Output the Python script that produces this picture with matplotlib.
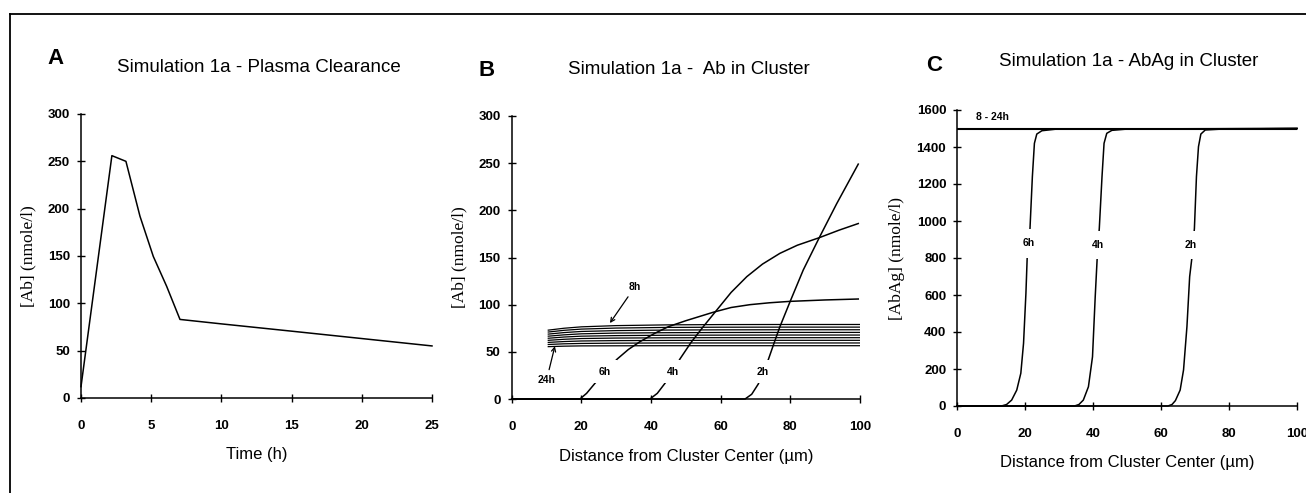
import matplotlib
matplotlib.use('Agg')
import matplotlib.pyplot as plt
from matplotlib.lines import Line2D

plt.rcParams['font.family'] = ['Liberation Sans', 'DejaVu Sans']

# ---- panel A : plasma clearance ----
time_h = [0, 2.2, 3.2, 4.2, 5.15, 6.1, 7.05, 10, 15, 20, 25]
plasma_ab = [12, 256, 250, 192, 149.5, 118, 83, 78.3, 70.6, 62.8, 55]

# ---- panel B : Ab in cluster ----
band_x = [10.5, 15, 20, 30, 45, 60, 80, 100]
band_ab = [
    [73.0, 75.0, 76.5, 77.8, 78.6, 78.9, 79.0, 79.0],   # 8h
    [71.0, 72.8, 74.1, 75.2, 75.9, 76.1, 76.2, 76.2],
    [68.8, 70.4, 71.6, 72.5, 73.1, 73.3, 73.4, 73.4],
    [66.6, 68.0, 69.1, 69.9, 70.3, 70.5, 70.6, 70.6],
    [64.4, 65.7, 66.6, 67.2, 67.6, 67.7, 67.8, 67.8],
    [62.2, 63.3, 64.1, 64.6, 64.9, 65.0, 65.0, 65.0],
    [60.0, 60.9, 61.5, 61.9, 62.1, 62.2, 62.2, 62.2],
    [57.8, 58.5, 58.9, 59.2, 59.4, 59.4, 59.4, 59.4],
    [55.5, 56.0, 56.3, 56.4, 56.5, 56.5, 56.5, 56.5],   # 24h
]
b6_x = [0, 19.6, 21.5, 23.9, 26.8, 30.3, 33.5, 36.8, 41, 45, 50, 57.9, 63, 68.4, 74, 79.9, 90, 99.5]
b6_y = [0, 0, 6, 16.6, 29, 42.4, 52.5, 60.7, 69.5, 76.7, 83, 92, 97, 100, 102, 103.5, 105, 106]
b4_x = [0, 39.7, 41.8, 44, 46.2, 48.3, 51.5, 55, 58.9, 63, 67.5, 72, 77, 82, 88.3, 94, 99.5]
b4_y = [0, 0, 6, 16.6, 29, 42.4, 60, 76.7, 94.4, 113, 129.7, 143, 154.4, 163, 171, 179, 186]
b2_x = [0, 67, 68.9, 70.8, 72.3, 73.7, 75.3, 77, 79.9, 83.7, 88.3, 93.3, 99.5]
b2_y = [0, 0, 5, 15.9, 29, 42, 59, 76.6, 103, 136.7, 171, 207, 249]

# ---- panel C : AbAg in cluster ----
c6_x = [0, 13.0, 14.5, 16.0, 17.5, 18.7, 19.5, 20.2, 20.6, 21.4, 22.1, 22.7, 23.4, 24.9, 29.3, 100]
c6_y = [0, 0, 8, 32, 86, 177, 339, 609, 816, 960, 1240, 1420, 1470, 1488, 1497, 1500]
c4_x = [0, 34.5, 35.8, 37.1, 38.6, 39.8, 40.6, 41.2, 41.8, 42.6, 43.2, 44.0, 45.5, 50, 100]
c4_y = [0, 0, 8, 32, 104, 266, 591, 807, 960, 1240, 1420, 1474, 1490, 1497, 1500]
c2_x = [0, 62.0, 63.2, 64.2, 65.6, 66.6, 67.6, 68.4, 69.1, 69.8, 70.4, 71.0, 71.7, 73.0, 78, 100]
c2_y = [0, 0, 8, 29, 86, 195, 429, 699, 807, 960, 1240, 1402, 1470, 1492, 1497, 1500]
c_late_x = [0, 100]
c_late_y = [1500, 1500]

W, H = 1306, 493
fig = plt.figure(figsize=(W / 100, H / 100), dpi=100)


def px_axes(l, r, b, t):
    return fig.add_axes([l / W, 1 - b / H, (r - l) / W, (b - t) / H])


def style(ax, xticks, yticks):
    ax.spines['top'].set_visible(False)
    ax.spines['right'].set_visible(False)
    for s in ('left', 'bottom'):
        ax.spines[s].set_linewidth(1.1)
    ax.set_xticks(xticks)
    ax.set_yticks(yticks)
    ax.tick_params(direction='inout', length=6, width=1.0, labelsize=9.5)
    ax.tick_params(axis='x', pad=13)
    ax.tick_params(axis='y', pad=5)
    for lab in ax.get_xticklabels() + ax.get_yticklabels():
        lab.set_fontweight('bold')


ylab_kw = dict(family=['Liberation Serif', 'DejaVu Serif'], fontsize=12.5)
title_kw = dict(fontsize=13.5)
xlab_kw = dict(fontsize=12, labelpad=11)
lw = 1.1

# A
axA = px_axes(81, 432, 398, 114)
axA.plot(time_h, plasma_ab, color='black', lw=lw, clip_on=False)
axA.set_xlim(0, 25)
axA.set_ylim(0, 300)
style(axA, [0, 5, 10, 15, 20, 25], [0, 50, 100, 150, 200, 250, 300])
axA.set_xlabel('Time (h)', **xlab_kw)
axA.set_ylabel('[Ab] (nmole/l)', labelpad=8, **ylab_kw)
fig.text(259 / W, 1 - 67 / H, 'Simulation 1a - Plasma Clearance', ha='center', va='center', **title_kw)
fig.text(56 / W, 1 - 59 / H, 'A', ha='center', va='center', fontsize=16, fontweight='bold')

# B
axB = px_axes(511.7, 860, 399, 116)
for row in band_ab:
    axB.plot(band_x, row, color='black', lw=0.9)
for xs, ys in ((b6_x, b6_y), (b4_x, b4_y), (b2_x, b2_y)):
    axB.plot(xs, ys, color='black', lw=lw, clip_on=False)
axB.set_xlim(0, 100)
axB.set_ylim(0, 300)
style(axB, [0, 20, 40, 60, 80, 100], [0, 50, 100, 150, 200, 250, 300])
axB.set_xlabel('Distance from Cluster Center (µm)', **xlab_kw)
axB.set_ylabel('[Ab] (nmole/l)', labelpad=8, **ylab_kw)
lab_kw = dict(fontsize=7.5, fontweight='bold', ha='center', va='center')
box = dict(boxstyle='square,pad=0.6', fc='white', ec='none')
for txt, x, y in (('6h', 26.8, 29), ('4h', 46.2, 29), ('2h', 72.0, 29)):
    axB.text(x, y, txt, bbox=box, zorder=5, **lab_kw)
axB.annotate('8h', xy=(28.2, 80.5), xytext=(35.4, 119),
             arrowprops=dict(arrowstyle='->', lw=0.9, color='black', shrinkA=2, shrinkB=0), **lab_kw)
axB.annotate('24h', xy=(12.4, 56), xytext=(10, 20),
             arrowprops=dict(arrowstyle='->', lw=0.9, color='black', shrinkA=2, shrinkB=0), **lab_kw)
fig.text(689 / W, 1 - 70 / H, 'Simulation 1a -  Ab in Cluster', ha='center', va='center', **title_kw)
fig.text(487 / W, 1 - 70 / H, 'B', ha='center', va='center', fontsize=16, fontweight='bold')

# C
axC = px_axes(957.3, 1297, 406, 110)
axC.plot(c_late_x, c_late_y, color='black', lw=1.5)
for xs, ys in ((c6_x, c6_y), (c4_x, c4_y), (c2_x, c2_y)):
    axC.plot(xs, ys, color='black', lw=lw, clip_on=False)
axC.set_xlim(0, 100)
axC.set_ylim(0, 1600)
style(axC, [0, 20, 40, 60, 80, 100], list(range(0, 1601, 200)))
axC.set_xlabel('Distance from Cluster Center (µm)', **xlab_kw)
axC.set_ylabel('[AbAg] (nmole/l)', labelpad=8, **ylab_kw)
boxC = dict(boxstyle='square,pad=0.9', fc='white', ec='none')
for txt, x, y in (('6h', 21.0, 880), ('4h', 41.4, 870), ('2h', 68.7, 870)):
    axC.text(x, y, txt, bbox=boxC, zorder=5, **lab_kw)
axC.text(5.5, 1560, '8 - 24h', fontsize=7.5, fontweight='bold', ha='left', va='center')
fig.text(1129 / W, 1 - 62 / H, 'Simulation 1a - AbAg in Cluster', ha='center', va='center', **title_kw)
fig.text(934 / W, 1 - 65 / H, 'C', ha='center', va='center', fontsize=16, fontweight='bold')

# outer frame (left and top edges)
fig.add_artist(Line2D([10 / W, 10 / W], [0, 1 - 13.5 / H], transform=fig.transFigure, color='black', lw=1.3))
fig.add_artist(Line2D([10 / W, 1], [1 - 13.5 / H, 1 - 13.5 / H], transform=fig.transFigure, color='black', lw=1.3))

fig.savefig('out.png', dpi=100)
